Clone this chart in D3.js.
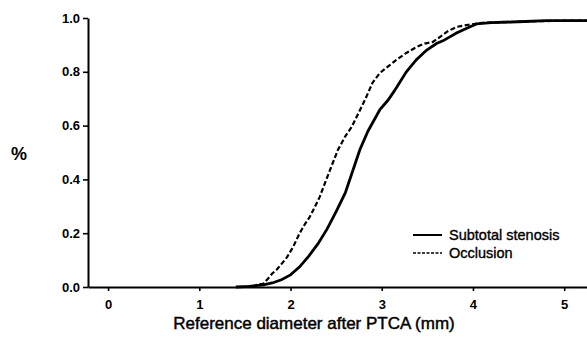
<!DOCTYPE html>
<html>
<head>
<meta charset="utf-8">
<script src="https://cdn.jsdelivr.net/npm/d3@7"></script>
<style>
  html, body { margin: 0; padding: 0; background: #fff; }
  svg { display: block; }
  text { font-family: "Liberation Sans", Arial, Helvetica, sans-serif; fill: #000; }
</style>
</head>
<body>
<svg id="chart" width="587" height="341"></svg>
<script>
// ---- data ----
const subtotalX = [1.40, 1.55, 1.70, 1.80, 1.90, 2.00, 2.10, 2.20, 2.30, 2.40, 2.50, 2.60, 2.70, 2.76, 2.85, 2.98, 3.07, 3.14, 3.27, 3.38, 3.49, 3.60, 3.67, 3.82, 3.95, 4.04, 4.20, 4.50, 4.80, 5.00, 5.25];
const subtotalY = [0, 0.002, 0.008, 0.015, 0.027, 0.045, 0.075, 0.115, 0.16, 0.215, 0.28, 0.35, 0.45, 0.51, 0.58, 0.66, 0.695, 0.73, 0.80, 0.845, 0.88, 0.905, 0.915, 0.944, 0.965, 0.978, 0.983, 0.986, 0.99, 0.99, 0.99];
const occlusionX = [1.50, 1.60, 1.65, 1.70, 1.75, 1.80, 1.85, 1.90, 1.96, 2.03, 2.10, 2.16, 2.21, 2.27, 2.32, 2.37, 2.45, 2.52, 2.60, 2.67, 2.75, 2.83, 2.90, 2.98, 3.07, 3.16, 3.27, 3.38, 3.47, 3.56, 3.64, 3.72, 3.82, 3.95, 4.10, 4.40, 4.70, 5.00, 5.25];
const occlusionY = [0, 0.004, 0.01, 0.012, 0.03, 0.05, 0.065, 0.085, 0.11, 0.15, 0.20, 0.235, 0.26, 0.30, 0.335, 0.38, 0.45, 0.51, 0.56, 0.595, 0.65, 0.706, 0.76, 0.796, 0.82, 0.844, 0.87, 0.892, 0.905, 0.911, 0.93, 0.95, 0.967, 0.975, 0.982, 0.985, 0.988, 0.99, 0.99];
const xTicks = [0, 1, 2, 3, 4, 5];
const yTicks = [0, 0.2, 0.4, 0.6, 0.8, 1.0];
const yTickLabels = ["0.0", "0.2", "0.4", "0.6", "0.8", "1.0"];
const seriesNames = ["Subtotal stenosis", "Occlusion"];
const xTitle = "Reference diameter after PTCA (mm)";
const yTitle = "%";

// ---- drawing ----
const svg = d3.select("#chart");
const x = d3.scaleLinear().domain([-0.22, 5.25]).range([88, 587]);
const y = d3.scaleLinear().domain([0, 1]).range([287, 18]);

const xAxis = svg.append("g")
  .attr("transform", `translate(0,${y(0)})`)
  .call(d3.axisBottom(x).tickValues(xTicks).tickFormat(d3.format("d")).tickSize(4).tickSizeOuter(0));
const yAxis = svg.append("g")
  .attr("transform", `translate(${x.range()[0]},0)`)
  .call(d3.axisLeft(y).tickValues(yTicks).tickFormat((d, i) => yTickLabels[i]).tickSize(5).tickSizeOuter(0));

[xAxis, yAxis].forEach(g => {
  g.select(".domain").attr("stroke", "#000").attr("stroke-width", 2);
  g.selectAll(".tick line").attr("stroke", "#000").attr("stroke-width", 1.6);
  g.selectAll(".tick text")
    .attr("font-family", "'Liberation Sans', Arial, sans-serif")
    .attr("font-size", 13).attr("font-weight", "bold").attr("fill", "#000");
});
xAxis.selectAll(".tick text").attr("dy", "1.15em");
yAxis.selectAll(".tick text").attr("x", -8);

svg.append("text").attr("x", 314).attr("y", 329).attr("text-anchor", "middle")
  .attr("font-size", 17).attr("stroke", "#000").attr("stroke-width", 0.45).text(xTitle);
svg.append("text").attr("x", 19).attr("y", 160).attr("text-anchor", "middle")
  .attr("font-size", 18).attr("font-weight", "bold").text(yTitle);

const line = d3.line().x(d => x(d[0])).y(d => y(d[1])).curve(d3.curveLinear);
const subtotal = subtotalX.map((v, i) => [v, subtotalY[i]]);
const occlusion = occlusionX.map((v, i) => [v, occlusionY[i]]);

svg.append("path").datum(occlusion).attr("d", line)
  .attr("fill", "none").attr("stroke", "#000").attr("stroke-width", 2.2)
  .attr("stroke-dasharray", "5,2.5");
svg.append("path").datum(subtotal).attr("d", line)
  .attr("fill", "none").attr("stroke", "#000").attr("stroke-width", 2.8);

// legend
const legend = svg.append("g");
const lg = [
  { name: seriesNames[0], dash: null, w: 2, ly: 235 },
  { name: seriesNames[1], dash: "3,1.5", w: 1.3, ly: 253 }
];
lg.forEach(d => {
  legend.append("line").attr("x1", 413).attr("x2", 442).attr("y1", d.ly).attr("y2", d.ly)
    .attr("stroke", "#000").attr("stroke-width", d.w).attr("stroke-dasharray", d.dash);
  legend.append("text").attr("x", 449).attr("y", d.ly + 5).attr("font-size", 14.5)
    .attr("stroke", "#000").attr("stroke-width", 0.35).text(d.name);
});
</script>
</body>
</html>
